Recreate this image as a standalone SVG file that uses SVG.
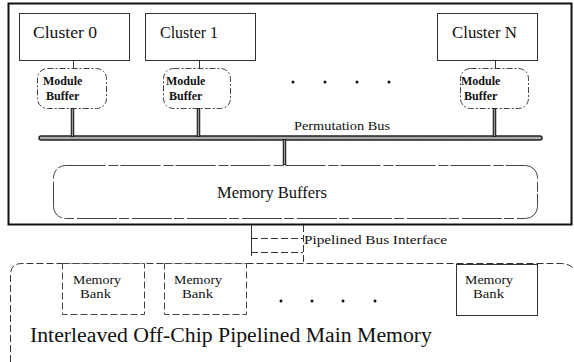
<svg xmlns="http://www.w3.org/2000/svg" width="574" height="362" viewBox="0 0 574 362" font-family="'Liberation Serif', 'DejaVu Serif', serif">
  <style>
    text { font-family: 'Liberation Serif', 'DejaVu Serif', serif; fill: #111; }
    .cluster { fill: #fff; stroke: #333; stroke-width: 1; }
    .cluster-t { font-size: 16px; }
    .modbuf { fill: #fff; stroke: #444; stroke-width: 1; stroke-dasharray: 6 2 2 2; }
    .mod-t { font-size: 12px; font-weight: bold; }
    .membuf { fill: #fff; stroke: #444; stroke-width: 1; stroke-dasharray: 40 3 10 2; }
    .bank { fill: #fff; stroke: #444; stroke-width: 1; stroke-dasharray: 7 3; }
    .bank-t { font-size: 12.5px; }
    .thin { stroke: #333; stroke-width: 1; fill: none; }
    .stem-o { stroke: #222; stroke-width: 3.5; }
    .stem-i { stroke: #999; stroke-width: 1.2; }
    .dash { stroke: #333; stroke-width: 1; stroke-dasharray: 7 3; fill: none; }
    .dot { fill: #111; }
  </style>

  <!-- on-chip region -->
  <g id="chip">
    <rect x="8.5" y="3.5" width="563" height="221" fill="none" stroke="#111" stroke-width="2"/>
  </g>

  <!-- processing clusters -->
  <g id="cluster-0">
    <rect class="cluster" x="19.5" y="13.5" width="110" height="47"/>
    <text class="cluster-t" x="33" y="38" textLength="64" lengthAdjust="spacingAndGlyphs">Cluster 0</text>
  </g>
  <g id="cluster-1">
    <rect class="cluster" x="145.5" y="13.5" width="110" height="47"/>
    <text class="cluster-t" x="160" y="38" textLength="58" lengthAdjust="spacingAndGlyphs">Cluster 1</text>
  </g>
  <g id="cluster-n">
    <rect class="cluster" x="437.5" y="13.5" width="100" height="47"/>
    <text class="cluster-t" x="452" y="38" textLength="65" lengthAdjust="spacingAndGlyphs">Cluster N</text>
  </g>

  <!-- per-cluster module buffers -->
  <g id="module-buffer-0">
    <rect class="modbuf" x="37.5" y="68.5" width="69" height="40" rx="10"/>
    <text class="mod-t" x="43" y="85">Module</text>
    <text class="mod-t" x="46" y="100">Buffer</text>
  </g>
  <g id="module-buffer-1">
    <rect class="modbuf" x="163.5" y="68.5" width="67" height="40" rx="10"/>
    <text class="mod-t" x="166" y="85">Module</text>
    <text class="mod-t" x="169" y="100">Buffer</text>
  </g>
  <g id="module-buffer-n">
    <rect class="modbuf" x="460.5" y="68.5" width="68" height="40" rx="10"/>
    <text class="mod-t" x="461" y="85">Module</text>
    <text class="mod-t" x="464" y="100">Buffer</text>
  </g>

  <!-- ellipsis between clusters -->
  <g id="cluster-ellipsis">
    <circle class="dot" cx="293" cy="82" r="1.5"/>
    <circle class="dot" cx="325" cy="82" r="1.5"/>
    <circle class="dot" cx="357" cy="82" r="1.5"/>
    <circle class="dot" cx="389" cy="82" r="1.5"/>
  </g>

  <!-- permutation bus -->
  <g id="permutation-bus">
    <line x1="41" y1="138" x2="540" y2="138" stroke="#222" stroke-width="5.5" stroke-linecap="round"/>
    <line x1="41" y1="138" x2="540" y2="138" stroke="#aaa" stroke-width="2.5" stroke-linecap="round" stroke-dasharray="2 1"/>
    <text x="294" y="130" font-size="13" textLength="96" lengthAdjust="spacingAndGlyphs">Permutation Bus</text>
  </g>

  <!-- shared memory buffers -->
  <g id="memory-buffers">
    <rect class="membuf" x="53.5" y="165.5" width="484" height="53" rx="12"/>
    <text x="217" y="198" font-size="16.5" textLength="110" lengthAdjust="spacingAndGlyphs">Memory Buffers</text>
  </g>

  <!-- pipelined bus interface -->
  <g id="bus-interface">
    <line class="thin" x1="251.5" y1="225" x2="251.5" y2="256"/>
    <line class="dash" x1="303.5" y1="225" x2="303.5" y2="263"/>
    <line class="dash" x1="251" y1="238.5" x2="303" y2="238.5"/>
    <line class="dash" x1="251" y1="252.5" x2="303" y2="252.5"/>
    <text x="304" y="244" font-size="12" textLength="143" lengthAdjust="spacingAndGlyphs">Pipelined Bus Interface</text>
  </g>

  <!-- off-chip main memory -->
  <g id="main-memory">
    <path class="dash" d="M10.5,362 V275 Q10.5,263.5 22,263.5 H560 Q570,263.5 574,269"/>
    <text x="30" y="342" font-size="20" textLength="402" lengthAdjust="spacingAndGlyphs">Interleaved Off-Chip Pipelined Main Memory</text>
  </g>
  <g id="memory-bank-0">
    <rect class="bank" x="62.5" y="263.5" width="82" height="51"/>
    <text class="bank-t" x="73" y="284" textLength="48" lengthAdjust="spacingAndGlyphs">Memory</text>
    <text class="bank-t" x="80" y="298" textLength="31" lengthAdjust="spacingAndGlyphs">Bank</text>
  </g>
  <g id="memory-bank-1">
    <rect class="bank" x="164.5" y="263.5" width="82" height="51"/>
    <text class="bank-t" x="174" y="284" textLength="48" lengthAdjust="spacingAndGlyphs">Memory</text>
    <text class="bank-t" x="182" y="298" textLength="31" lengthAdjust="spacingAndGlyphs">Bank</text>
  </g>
  <g id="memory-bank-n">
    <rect class="cluster" x="456.5" y="264.5" width="81" height="51"/>
    <text class="bank-t" x="465" y="284" textLength="48" lengthAdjust="spacingAndGlyphs">Memory</text>
    <text class="bank-t" x="473" y="298" textLength="31" lengthAdjust="spacingAndGlyphs">Bank</text>
  </g>
  <g id="bank-ellipsis">
    <circle class="dot" cx="281" cy="301" r="1.5"/>
    <circle class="dot" cx="312" cy="301" r="1.5"/>
    <circle class="dot" cx="343" cy="301" r="1.5"/>
    <circle class="dot" cx="375" cy="301" r="1.5"/>
  </g>

  <!-- connectors -->
  <g id="connectors">
    <line class="thin" x1="73.5" y1="60.5" x2="73.5" y2="68.5"/>
    <line class="thin" x1="199.5" y1="60.5" x2="199.5" y2="68.5"/>
    <line class="thin" x1="495.5" y1="60.5" x2="495.5" y2="68.5"/>
    <g>
      <line class="stem-o" x1="72.5" y1="108" x2="72.5" y2="137"/>
      <line class="stem-o" x1="198.5" y1="108" x2="198.5" y2="137"/>
      <line class="stem-o" x1="494.5" y1="108" x2="494.5" y2="137"/>
      <line class="stem-o" x1="284.5" y1="139" x2="284.5" y2="165"/>
      <line class="stem-i" x1="72.5" y1="109" x2="72.5" y2="136"/>
      <line class="stem-i" x1="198.5" y1="109" x2="198.5" y2="136"/>
      <line class="stem-i" x1="494.5" y1="109" x2="494.5" y2="136"/>
      <line class="stem-i" x1="284.5" y1="140" x2="284.5" y2="164"/>
    </g>
  </g>
</svg>
